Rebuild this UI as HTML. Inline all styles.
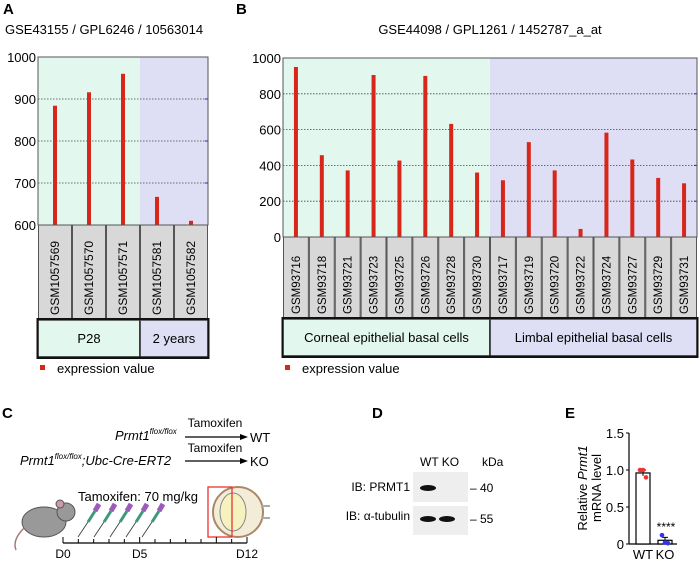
<!DOCTYPE html>
<html><head><meta charset="utf-8"><style>
body{margin:0;background:#fff;}
svg{display:block;font-family:"Liberation Sans",sans-serif;}
</style></head><body>
<svg id="fig" width="700" height="564" viewBox="0 0 700 564">
<g id="panelA"></g>
<g id="panelB"></g>
<g id="panelC">
 <text x="2" y="418" font-size="15" font-weight="bold">C</text>
 <text x="115" y="440" font-size="13" font-style="italic">Prmt1<tspan font-size="8" dy="-6">flox/flox</tspan></text>
 <text x="215" y="427" font-size="12" text-anchor="middle">Tamoxifen</text>
 <line x1="185" y1="437" x2="243" y2="437" stroke="#000" stroke-width="1.3"/>
 <polygon points="248,437 240,434 240,440" fill="#000"/>
 <text x="250" y="442" font-size="13">WT</text>
 <text x="20" y="465" font-size="13" font-style="italic">Prmt1<tspan font-size="8" dy="-6">flox/flox</tspan><tspan dy="6">;Ubc-Cre-ERT2</tspan></text>
 <text x="215" y="452" font-size="12" text-anchor="middle">Tamoxifen</text>
 <line x1="185" y1="461" x2="243" y2="461" stroke="#000" stroke-width="1.3"/>
 <polygon points="248,461 240,458 240,464" fill="#000"/>
 <text x="250" y="466" font-size="13">KO</text>
 <text x="78" y="501" font-size="13">Tamoxifen: 70 mg/kg</text>
 <g>
  <ellipse cx="44" cy="522" rx="22" ry="15" fill="#999" stroke="#555"/>
  <circle cx="66" cy="512" r="9" fill="#999" stroke="#555"/>
  <circle cx="60" cy="504" r="4" fill="#c9a" stroke="#555"/>
  <path d="M24,528 Q12,540 16,550" stroke="#a77" fill="none" stroke-width="1.5"/>
 </g>
 <g id="syringes"></g>
 <g>
  <circle cx="238" cy="512" r="25" fill="#f3ecd8" stroke="#a86" stroke-width="2"/>
  <ellipse cx="233" cy="512" rx="13" ry="19" fill="#f5f2c0" stroke="#888"/>
  <path d="M261,506 L270,506 M261,518 L270,518" stroke="#aaa" stroke-width="2"/>
  <rect x="208" y="487" width="24" height="50" fill="none" stroke="#e33" stroke-width="1.3"/>
 </g>
 <g id="timeline"></g>
</g>
<g id="panelD">
 <text x="372" y="418" font-size="15" font-weight="bold">D</text>
 <text x="420" y="466" font-size="12">WT KO</text>
 <text x="482" y="466" font-size="12">kDa</text>
 <text x="410" y="491" font-size="12" text-anchor="end">IB: PRMT1</text>
 <text x="410" y="520" font-size="12" text-anchor="end">IB: α-tubulin</text>
 <rect x="413" y="472" width="55" height="30" fill="#eee"/>
 <rect x="413" y="506" width="55" height="29" fill="#eee"/>
 <ellipse cx="428" cy="488" rx="8" ry="3" fill="#111"/>
 <ellipse cx="428" cy="519" rx="8" ry="3" fill="#111"/>
 <ellipse cx="447" cy="519" rx="8" ry="3" fill="#111"/>
 <text x="470" y="492" font-size="12">– 40</text>
 <text x="470" y="523" font-size="12">– 55</text>
</g>
<g id="panelE"></g>
</svg>
<script>
var NS="http://www.w3.org/2000/svg";
function mk(p,t,a){var e=document.createElementNS(NS,t);for(var k in a)e.setAttribute(k,a[k]);p.appendChild(e);return e;}

// ===== Panel A data =====
var aSamples=["GSM1057569","GSM1057570","GSM1057571","GSM1057581","GSM1057582"];
var aValues=[884,916,960,667,610];
var aTicks=[600,700,800,900,1000];
var aGroups=["P28","2 years"];
var aGroupSizes=[3,2];

// ===== Panel B data =====
var bSamples=["GSM93716","GSM93718","GSM93721","GSM93723","GSM93725","GSM93726","GSM93728","GSM93730","GSM93717","GSM93719","GSM93720","GSM93722","GSM93724","GSM93727","GSM93729","GSM93731"];
var bValues=[950,457,372,905,427,900,632,360,317,530,372,45,583,433,330,300];
var bTicks=[0,200,400,600,800,1000];
var bGroups=["Corneal epithelial basal cells","Limbal epithelial basal cells"];
var bGroupSizes=[8,8];

// ===== Panel E data =====
var eGroups=["WT","KO"];
var eMeans=[0.96,0.05];
var eErr=[0.04,0.04];
var ePoints=[[1.0,1.0,0.90],[0.12,0.02,0.01]];
var eTicks=[0,0.5,1.0,1.5];
var eTickLabels=["0","0.5","1.0","1.5"];

function geoChart(g,cfg){
  var L=cfg.x0,R=cfg.x1,T=cfg.top,B=cfg.bot;
  var n=cfg.samples.length,cw=(R-L)/n;
  var y=function(v){return B-(v-cfg.min)/(cfg.max-cfg.min)*(B-T);};
  var t=mk(g,'text',{x:cfg.titleX,y:34,'font-size':13,'text-anchor':cfg.titleAnchor});
  
  
  t.textContent=cfg.title;
  var cols=['#e2f7ee','#dedef5'];var start=0;
  cfg.gsizes.forEach(function(s,i){
    var r=mk(g,'rect',{x:L+start*cw,y:T,width:s*cw,height:B-T,fill:cols[i]});
    
    
    var band=mk(g,'rect',{x:L+start*cw,y:cfg.labBot,width:s*cw,height:37,fill:cols[i],stroke:'#222','stroke-width':1.5});
    
    
    var bt=mk(g,'text',{x:L+(start+s/2)*cw,y:cfg.labBot+23,'font-size':13,'text-anchor':'middle'});
    
    
    bt.textContent=cfg.groups[i];
    start+=s;
  });
  cfg.ticks.forEach(function(v){
    var yy=y(v);
    if(v!==cfg.min&&v!==cfg.max){
      var gl=mk(g,'line',{x1:L,x2:R,y1:yy,y2:yy,stroke:'#444','stroke-dasharray':'1.5,1.5','stroke-width':0.8});
      
      
      mk(g,'line',{x1:R-3,x2:R,y1:yy,y2:yy,stroke:'#22c','stroke-width':1});
    }
    var tl=mk(g,'text',{x:L-2,y:yy+5,'font-size':13,'text-anchor':'end'});
    
    
    tl.textContent=v;
  });
  mk(g,'rect',{x:L,y:T,width:R-L,height:B-T,fill:'none',stroke:'#555','stroke-width':1});
  cfg.samples.forEach(function(s,i){
    var cx=L+(i+0.5)*cw;
    var bar=mk(g,'rect',{x:cx-2,y:y(cfg.values[i]),width:4,height:B-y(cfg.values[i]),fill:'#d9261a'});
    
    
    var lb=mk(g,'rect',{x:L+i*cw+0.5,y:B,width:cw-1,height:cfg.labBot-B,fill:'#d8d8d8',stroke:'#555','stroke-width':1});
    
    
    var tx=mk(g,'text',{x:0,y:0,'font-size':cfg.lfs,transform:'translate('+(cx+4)+','+(cfg.labBot-5)+') rotate(-90)'});
    
    
    tx.textContent=s;
  });
  mk(g,'rect',{x:L-0.5,y:cfg.labBot-1,width:R-L+1,height:39,fill:'none',stroke:'#111','stroke-width':2});
  var lg=mk(g,'rect',{x:L+2,y:365,width:5,height:5,fill:'#d9261a'});
  
  
  var lt=mk(g,'text',{x:L+19,y:373,'font-size':13});
  
  
  lt.textContent='expression value';
}
var gA=document.getElementById('panelA');
var la=mk(gA,'text',{x:3,y:14,'font-size':15,'font-weight':'bold'});


la.textContent='A';
geoChart(gA,{x0:38,x1:208,top:57,bot:225,labBot:320,min:600,max:1000,samples:aSamples,values:aValues,ticks:aTicks,groups:aGroups,gsizes:aGroupSizes,title:'GSE43155 / GPL6246 / 10563014',titleX:5,titleAnchor:'start',lfs:12});
var gB=document.getElementById('panelB');
var lb2=mk(gB,'text',{x:236,y:14,'font-size':15,'font-weight':'bold'});


lb2.textContent='B';
geoChart(gB,{x0:283,x1:697,top:58,bot:237,labBot:319,min:0,max:1000,samples:bSamples,values:bValues,ticks:bTicks,groups:bGroups,gsizes:bGroupSizes,title:'GSE44098 / GPL1261 / 1452787_a_at',titleX:490,titleAnchor:'middle',lfs:11.5});

// timeline + syringes
var tl=document.getElementById('timeline');
var t0=63,t1=247,ty=543;
mk(tl,'line',{x1:t0,x2:t1,y1:ty,y2:ty,stroke:'#000','stroke-width':1.2});
for(var d=0;d<=12;d++){var xx=t0+d*(t1-t0)/12;mk(tl,'line',{x1:xx,x2:xx,y1:ty-(d%5===0||d===12?6:4),y2:ty,stroke:'#000','stroke-width':1});}
[["D0",0],["D5",5],["D12",12]].forEach(function(p){var e=mk(tl,'text',{x:t0+p[1]*(t1-t0)/12,y:558,'font-size':12,'text-anchor':'middle'});e.textContent=p[0];

});
var sy=document.getElementById('syringes');
for(var i=0;i<5;i++){var bx=78+i*16;
 mk(sy,'line',{x1:bx,y1:537,x2:bx+10,y2:522,stroke:'#333','stroke-width':0.8});
 mk(sy,'line',{x1:bx+10,y1:522,x2:bx+17,y2:511,stroke:'#3a9a7a','stroke-width':3});
 mk(sy,'line',{x1:bx+17,y1:511,x2:bx+21,y2:504,stroke:'#9a5cb8','stroke-width':5});}

// Panel E
var gE=document.getElementById('panelE');
var le=mk(gE,'text',{x:565,y:418,'font-size':15,'font-weight':'bold'});


le.textContent='E';
var eX0=629,eTop=433,eBot=544,eMax=1.5;
var ey=function(v){return eBot-v/eMax*(eBot-eTop);};
var eCx=[643,665];
mk(gE,'line',{x1:eX0,x2:eX0,y1:eTop,y2:eBot,stroke:'#000','stroke-width':1.2});
mk(gE,'line',{x1:eX0,x2:677,y1:eBot,y2:eBot,stroke:'#000','stroke-width':1.2});
eTicks.forEach(function(v,i){var yy=ey(v);mk(gE,'line',{x1:eX0-3,x2:eX0,y1:yy,y2:yy,stroke:'#000'});
 var t=mk(gE,'text',{x:eX0-5,y:yy+5,'font-size':13,'text-anchor':'end'});t.textContent=eTickLabels[i];
 
 });
var yt=mk(gE,'text',{x:0,y:0,'font-size':13,'text-anchor':'middle',transform:'translate(587,488) rotate(-90)'});


yt.innerHTML='<tspan x="0" dy="0">Relative <tspan font-style="italic">Prmt1</tspan></tspan><tspan x="0" dy="14">mRNA level</tspan>';
var cols=['#e33','#33e'];
eGroups.forEach(function(gname,i){
 var cx=eCx[i];
 var b=mk(gE,'rect',{x:cx-7,y:ey(eMeans[i]),width:14,height:eBot-ey(eMeans[i]),fill:'#fff',stroke:'#000','stroke-width':1.2});
 
 
 mk(gE,'line',{x1:cx,x2:cx,y1:ey(eMeans[i]+eErr[i]),y2:ey(eMeans[i]-eErr[i]),stroke:'#000'});
 mk(gE,'line',{x1:cx-3,x2:cx+3,y1:ey(eMeans[i]+eErr[i]),y2:ey(eMeans[i]+eErr[i]),stroke:'#000'});
 ePoints[i].forEach(function(v,j){var p=mk(gE,'circle',{cx:cx+(j-1)*3,cy:ey(v),r:2.3,fill:cols[i]});
  
  });
 var t=mk(gE,'text',{x:cx,y:559,'font-size':13,'text-anchor':'middle'});t.textContent=gname;
 
 
});
var st=mk(gE,'text',{x:666,y:531,'font-size':12,'text-anchor':'middle'});


st.textContent='****';
</script>
</body></html>
